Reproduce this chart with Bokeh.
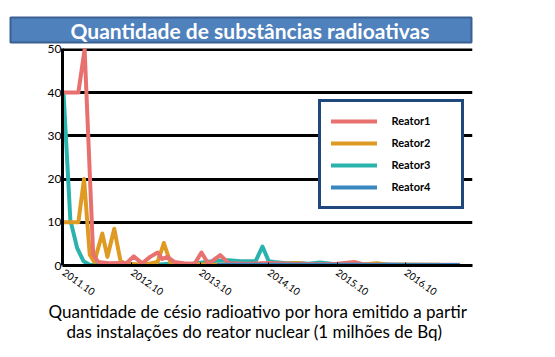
from bokeh.plotting import figure
from bokeh.models import Range1d, FixedTicker, Legend, LegendItem, Title
from bokeh.embed import file_html
from bokeh.resources import INLINE

# ---- data (x = months since 2011.10) ----
tick_months = [0, 12, 24, 36, 48, 60]
tick_labels = ["2011.10", "2012.10", "2013.10", "2014.10", "2015.10", "2016.10"]
y_ticks = [0, 10, 20, 30, 40, 50]

series_names = ["Reator1", "Reator2", "Reator3", "Reator4"]

r1_month = [0, 2.6, 3.7, 5.2, 6.1, 8, 10, 11, 12.3, 13.8, 15.2, 16.5, 17.3, 18.2, 19.5, 21, 23,
            24.2, 25.4, 27.5, 29, 32, 36, 40, 45, 48, 51, 52.5, 56, 62, 69.3]
r1_val = [40, 40, 50, 2.5, 0.8, 0.5, 0.6, 0.5, 2.1, 0.5, 2.0, 3.0, 1.5, 2.0, 0.8, 0.5, 0.4,
          3.0, 0.4, 2.4, 0.5, 0.4, 0.6, 0.4, 0.3, 0.4, 0.8, 0.3, 0.2, 0.2, 0.2]

r2_month = [0, 2.6, 3.6, 4.6, 5.4, 6.8, 7.7, 8.9, 10, 11, 13, 15, 16.5, 17.6, 18.8, 21, 24,
            27, 30, 34, 38, 41, 43, 48, 52, 55, 57, 62, 66]
r2_val = [10, 10, 20, 2.5, 0.8, 7.4, 2.0, 8.5, 1.0, 0.4, 0.3, 0.4, 0.8, 5.2, 0.5, 0.3, 0.3,
          0.2, 0.3, 0.2, 0.3, 0.6, 0.3, 0.2, 0.2, 0.5, 0.2, 0.2, 0.2]

r3_month = [0, 1.2, 2.4, 3.5, 4.6, 8, 12, 16, 20, 22, 25, 27, 29, 31, 33.7, 34.9, 36, 37,
            39, 41, 43, 45, 47, 50, 55, 60, 66, 69]
r3_val = [40, 10.5, 4.0, 1.0, 0.2, 0.1, 0.1, 0.2, 0.5, 0.3, 0.8, 1.1, 1.2, 1.0, 1.0, 4.4, 1.0, 0.8,
          0.5, 0.6, 0.4, 0.7, 0.4, 0.3, 0.2, 0.15, 0.1, 0.1]

r4_month = [27.2, 30, 33, 36, 39, 42, 45, 48, 51, 54, 57, 60, 63, 66, 69.3]
r4_val = [0.2, 0.2, 0.15, 0.2, 0.15, 0.15, 0.2, 0.15, 0.15, 0.1, 0.15, 0.1, 0.1, 0.1, 0.1]

title_text = "Quantidade de substâncias radioativas"
caption_lines = ["Quantidade de césio radioativo por hora emitido a partir",
                 "das instalações do reator nuclear (1 milhões de Bq)"]

colors = ["#E8706F", "#DE9A22", "#2AB3AD", "#3A87C0"]

FONT = "Lato"
W, H = 555, 357

p = figure(width=W, height=H, output_backend="svg", toolbar_location=None,
           x_range=Range1d(-0.18, 71.75), y_range=Range1d(0, 50.2),
           min_border_left=62, min_border_right=W - 472, min_border_top=48,
           min_border_bottom=H - 265,
           background_fill_color="white", border_fill_color="white")
p.outline_line_color = None
p.xgrid.grid_line_color = None
p.ygrid.grid_line_color = "black"
p.ygrid.grid_line_width = 3
p.ygrid.ticker = FixedTicker(ticks=y_ticks)

# title in a blue box
p.title = Title(text=title_text, align="left", offset=-52, standoff=12,
                vertical_align="bottom", text_color="white", text_font=FONT,
                text_font_style="bold", text_font_size="21px",
                background_fill_color="#4F81BD", background_fill_alpha=1.0,
                border_line_color="#3A6192", border_line_width=2, border_line_alpha=1.0,
                padding=dict(left=60, right=42, top=0, bottom=0))

p.yaxis.ticker = FixedTicker(ticks=y_ticks)
p.yaxis.axis_line_width = 3
p.yaxis.axis_line_color = "black"
p.yaxis.major_tick_line_color = None
p.yaxis.major_tick_out = 0
p.yaxis.major_tick_in = 0
p.yaxis.minor_tick_line_color = None
p.yaxis.minor_tick_out = 0
p.yaxis.minor_tick_in = 0
p.yaxis.major_label_text_font = FONT
p.yaxis.major_label_text_font_size = "12px"
p.yaxis.major_label_text_color = "black"
p.yaxis.major_label_standoff = 1

p.xaxis.ticker = FixedTicker(ticks=tick_months)
p.xaxis.major_label_overrides = {m: l for m, l in zip(tick_months, tick_labels)}
p.xaxis.axis_line_width = 3
p.xaxis.axis_line_color = "black"
p.xaxis.major_tick_in = 3
p.xaxis.major_tick_out = 0
p.xaxis.major_tick_line_width = 1
p.xaxis.minor_tick_line_color = None
p.xaxis.minor_tick_out = 0
p.xaxis.minor_tick_in = 0
p.xaxis.major_label_orientation = -0.62
p.xaxis.major_label_text_font = FONT
p.xaxis.major_label_text_font_size = "10px"
p.xaxis.major_label_text_color = "black"
p.xaxis.major_label_standoff = 6

line_kw = dict(line_width=4, line_cap="round", line_join="round")
r3 = p.line(r3_month, r3_val, line_color=colors[2], **line_kw)
r2 = p.line(r2_month, r2_val, line_color=colors[1], **line_kw)
r1 = p.line(r1_month, r1_val, line_color=colors[0], **line_kw)
r4 = p.line(r4_month, r4_val, line_color=colors[3], **line_kw)

legend = Legend(items=[LegendItem(label=series_names[0], renderers=[r1]),
                       LegendItem(label=series_names[1], renderers=[r2]),
                       LegendItem(label=series_names[2], renderers=[r3]),
                       LegendItem(label=series_names[3], renderers=[r4])],
                location=(255.5, 56.5), orientation="vertical",
                border_line_color="#1F497D", border_line_width=3, border_line_alpha=1.0,
                background_fill_color="white", background_fill_alpha=1.0,
                padding=10, spacing=4, glyph_width=46, glyph_height=18,
                label_height=18, label_width=59, label_standoff=15, margin=0,
                label_text_font=FONT, label_text_font_style="bold",
                label_text_font_size="11px", label_text_color="black")
p.add_layout(legend)

# caption under the x axis
for line, off, so in zip(caption_lines, [-14, 4], [-6, 0]):
    p.add_layout(Title(text=line, align="left", offset=off, standoff=so,
                       text_color="black", text_font=FONT, text_font_style="normal",
                       text_font_size="17px"), "below")

open("out.html", "w").write(file_html(p, INLINE))
